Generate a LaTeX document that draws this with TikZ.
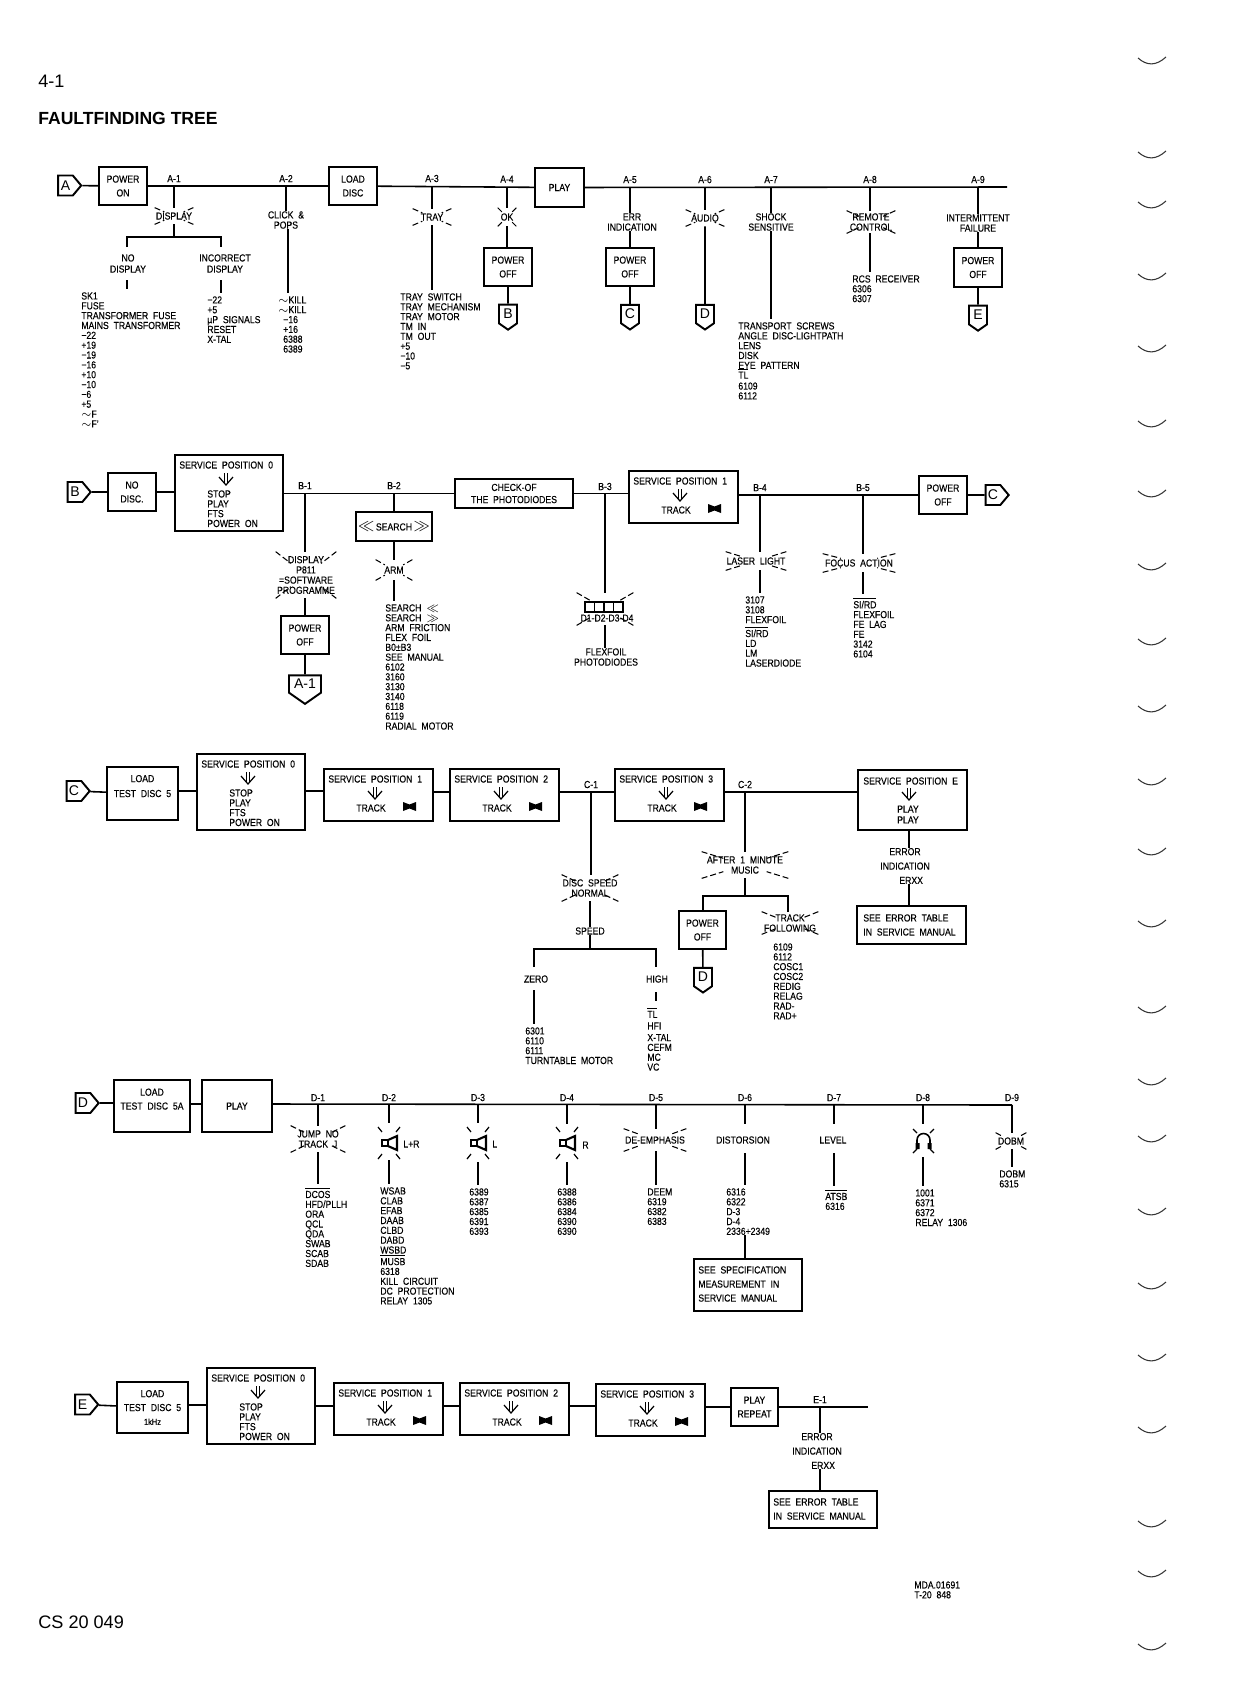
\documentclass[tikz,border=0pt]{standalone}
\usepackage{fontspec}
\setmainfont[WordSpace=2,FakeStretch=0.85,FakeBold=0.25]{Liberation Sans}
\newfontfamily\headfont{Liberation Sans}
\usepackage{tikz}
\usetikzlibrary{shapes, calc, positioning}
\def\px{0.02cm}
\tikzset{
  wire/.style={line width=0.9pt},
  lead/.style={wire, shorten >=1.7pt},
  ray/.style={line width=0.6pt, dash pattern=on 3.4pt off 1.7pt},
  txt/.style={inner sep=0pt, align=center, font=\fontsize{5.8}{5.8}\selectfont},
  partlist/.style={inner sep=0pt, anchor=north west, align=left, font=\fontsize{5.8}{5.6}\selectfont},
  stepbox/.style 2 args={draw, line width=1.1pt, inner sep=0pt, align=center, minimum width=#1*\px, minimum height=#2*\px, font=\fontsize{5.8}{7.9}\selectfont},
  tagright/.style={draw, line width=1.1pt, signal, signal to=east, signal pointer angle=100, inner sep=0pt, minimum width=23*\px, minimum height=20*\px, font=\headfont\fontsize{8}{9}\selectfont},
  tagdown/.style={draw, line width=1.1pt, signal, signal to=south, signal pointer angle=110, inner sep=0pt, minimum width=18*\px, minimum height=22*\px, font=\headfont\fontsize{8}{9}\selectfont},
  note/.style={txt, anchor=west},
}
\newcommand{\flash}[6]{% name, x, y, half width, half height, text
  \node[txt, minimum width=2*#4*\px, minimum height=2*#5*\px] (#1) at (#2,#3) {#6};
  \foreach \c in {north west, north east, south west, south east}
    \draw[ray] (#1.\c) -- ($(#1.\c)!0.5!(#1.center)$);
}
\newcommand{\downshafts}[2]{%
  \draw[line width=0.5pt] (#1-1.2,#2) -- ++(0,11) (#1+1.2,#2) -- ++(0,11);
  \draw[line width=0.7pt] (#1-7,#2+4) -- (#1,#2+12) -- (#1+7,#2+4);
}
\newcommand{\diode}[2]{%
  \fill (#1,#2) -- (#1+6.5,#2+2.5) -- (#1+13,#2) -- (#1+13,#2+9) -- (#1+6.5,#2+6.5) -- (#1,#2+9) -- cycle;
}
\newcommand{\trackbox}[4]{% name, left, top, position
  \node[stepbox={109}{52}, anchor=north west] (#1) at (#2,#3) {};
  \node[note] (#1title) at (#2+5,#3+11) {SERVICE POSITION #4};
  \downshafts{#2+52}{#3+19}
  \node[txt] (#1track) at (#2+48,#3+40) {TRACK};
  \diode{#2+80}{#3+34}
}
\newcommand{\stopbox}[3]{% name, left, top
  \node[stepbox={108}{76}, anchor=north west] (#1) at (#2,#3) {};
  \node[note] (#1title) at (#2+5,#3+11) {SERVICE POSITION 0};
  \downshafts{#2+52}{#3+19}
  \node[partlist] (#1list) at (#2+33,#3+36) {STOP\\PLAY\\FTS\\POWER ON};
}
\newcommand{\speaker}[3]{% name, x, y
  \coordinate (#1) at (#2,#3);
  \draw[line width=1.2pt] (#2-7,#3-3) rectangle (#2-1,#3+3);
  \draw[line width=1.2pt] (#2-1,#3-3) -- (#2+8,#3-7) -- (#2+8,#3+7) -- (#2-1,#3+3);
  \foreach \s/\t in {-1/-1, 1/-1, -1/1, 1/1}
    \draw[line width=0.7pt] (#2+\s*7,#3+\t*11) -- (#2+\s*11,#3+\t*16);
}
\begin{document}
\begin{tikzpicture}[x=0.02cm, y=-0.02cm]
  \lineskiplimit=-5pt
  \useasboundingbox (0,0) rectangle (1244,1688);

  \node[anchor=west, inner sep=0pt, font=\headfont\fontsize{10.3}{12}\selectfont] (pageNo) at (38,81) {4-1};
  \node[anchor=west, inner sep=0pt, font=\headfont\bfseries\fontsize{10}{12}\selectfont] (pageTitle) at (38,118) {FAULTFINDING TREE};
  \node[anchor=west, inner sep=0pt, font=\headfont\fontsize{10.3}{12}\selectfont] (docNo) at (38,1622) {CS 20 049};
  \node[partlist] (drawingNo) at (914,1581) {MDA.01691\\T-20 848};

  % row A
  \node[tagright] (tagA) at (65.5,185.5) {A};
  \node[stepbox={48}{38}] (powerOnA) at (123,186) {POWER\\ON};
  \node[stepbox={48}{38}] (loadDiscA) at (353,186) {LOAD\\DISC};
  \node[stepbox={49}{39}] (playA) at (559.5,187.5) {PLAY};
  \coordinate (a9end) at (1007,187);
  \draw[wire] (tagA) -- (powerOnA);
  \draw[wire] (powerOnA) -- (loadDiscA);
  \draw[wire] (loadDiscA) -- (playA);
  \draw[wire] (playA) -- (a9end);

  \foreach \nm/\lab/\xx/\yy in {a1/A-1/174/186, a2/A-2/286/186, a3/A-3/432/186, a4/A-4/507/186.5, a5/A-5/630/187, a6/A-6/705/187, a7/A-7/771/187, a8/A-8/870/187, a9/A-9/978/187}{
    \coordinate (\nm) at (\xx,\yy);
    \node[txt, above=2pt of \nm] (\nm label) {\lab};
  }

  \flash{flashDisplay}{174}{216}{19}{8}{DISPLAY}
  \draw[wire] (a1) -- (flashDisplay.north);
  \coordinate (a1fork) at (174,237);
  \draw[wire] (flashDisplay.south) -- (a1fork);
  \node[txt] (noDisplay) at (128,263.5) {NO\\[0.5pt]DISPLAY};
  \node[txt] (badDisplay) at (225,263.5) {INCORRECT\\[0.5pt]DISPLAY};
  \coordinate (noDisplayEnd) at (127,247);
  \coordinate (badDisplayEnd) at (221,247);
  \draw[wire] (noDisplayEnd) |- (a1fork) -| (badDisplayEnd);
  \node[partlist] (listNoDisplay) at (81,292) {SK1\\FUSE\\TRANSFORMER FUSE\\MAINS TRANSFORMER\\−22\\+19\\−19\\−16\\+10\\−10\\−6\\+5\\$\sim$F\\$\sim$F'};
  \node[partlist] (listBadDisplay) at (207,296) {−22\\+5\\µP SIGNALS\\RESET\\X-TAL};
  \coordinate (noDisplayStub) at (127,280);
  \coordinate (badDisplayStub) at (221,280);
  \draw[lead] (noDisplayStub) -- (noDisplayStub |- listNoDisplay.north);
  \draw[lead] (badDisplayStub) -- (badDisplayStub |- listBadDisplay.north);

  \node[txt] (clickPops) at (286,220) {CLICK \&\\POPS};
  \draw[wire] (a2) -- (clickPops.north);
  \node[partlist] (listClick) at (278,296) {$\sim$KILL\\$\sim$KILL\\\hspace*{2.8pt}−16\\\hspace*{2.8pt}+16\\\hspace*{2.8pt}6388\\\hspace*{2.8pt}6389};
  \draw[lead] (clickPops.south -| 288,0) -- (listClick.north -| 288,0);

  \flash{flashTray}{432}{217}{19}{8}{TRAY}
  \draw[wire] (a3) -- (flashTray.north);
  \node[partlist] (listTray) at (400,293) {TRAY SWITCH\\TRAY MECHANISM\\TRAY MOTOR\\TM IN\\TM OUT\\+5\\−10\\−5};
  \draw[lead] (flashTray.south) -- (flashTray.south |- listTray.north);

  \flash{flashOk}{507}{217}{9}{9}{OK}
  \node[stepbox={48}{38}] (powerOffB) at (508,267) {POWER\\OFF};
  \node[tagdown] (tagDownB) at (508,314) {B};
  \draw[wire] (a4) -- (flashOk.north);
  \draw[wire] (flashOk.south) -- (flashOk.south |- powerOffB.north);
  \draw[wire] (powerOffB) -- (tagDownB);

  \node[txt] (errIndication) at (632,222) {ERR\\INDICATION};
  \node[stepbox={48}{38}] (powerOffC) at (630,267) {POWER\\OFF};
  \node[tagdown] (tagDownC) at (630,314) {C};
  \draw[wire] (a5) -- (a5 |- errIndication.north);
  \draw[wire] (a5 |- errIndication.south) -- (powerOffC);
  \draw[wire] (powerOffC) -- (tagDownC);

  \flash{flashAudio}{705}{218}{19}{8}{AUDIO}
  \node[tagdown] (tagDownD) at (705,314) {D};
  \draw[wire] (a6) -- (flashAudio.north);
  \draw[wire] (flashAudio) -- (tagDownD);

  \node[txt] (shock) at (771,222) {SHOCK\\SENSITIVE};
  \node[partlist] (listShock) at (738,322) {TRANSPORT SCREWS\\ANGLE DISC-LIGHTPATH\\LENS\\DISK\\EYE PATTERN\\$\overline{\mbox{TL}}$\\[0.6pt]6109\\6112};
  \draw[wire] (a7) -- (shock.north);
  \draw[lead] (shock.south) -- (shock.south |- listShock.north);

  \flash{flashRemote}{871}{222}{24}{11}{REMOTE\\CONTROL}
  \node[partlist] (listRemote) at (852,275) {RCS RECEIVER\\6306\\6307};
  \draw[wire] (a8) -- (a8 |- flashRemote.north);
  \draw[lead] (a8 |- flashRemote.south) -- (a8 |- listRemote.north);

  \node[txt] (intermittent) at (978,223) {INTERMITTENT\\FAILURE};
  \node[stepbox={48}{39}] (powerOffE) at (978,267.5) {POWER\\OFF};
  \node[tagdown] (tagDownE) at (978,315) {E};
  \draw[wire] (a9) -- (intermittent.north);
  \draw[wire] (intermittent) -- (powerOffE);
  \draw[wire] (powerOffE) -- (tagDownE);

  % row B
  \node[tagright] (tagB) at (75,492) {B};
  \node[stepbox={48}{38}] (noDisc) at (132,492) {NO\\DISC.};
  \stopbox{stopB}{174}{454}
  \node[stepbox={118}{29}] (checkDiodes) at (514,493.5) {CHECK-OF\\[-1pt]THE PHOTODIODES};
  \trackbox{trackB}{628}{470}{1}
  \node[stepbox={48}{38}] (powerOffBC) at (943,495) {POWER\\OFF};
  \node[tagright] (tagOutC) at (993,495) {C};
  \draw[wire] (tagB) -- (noDisc);
  \draw[wire] (noDisc) -- (noDisc -| stopB.west);
  \draw[wire] (stopB.east |- checkDiodes) -- (checkDiodes);
  \draw[wire] (checkDiodes) -- (checkDiodes -| trackB.west);
  \draw[wire] (trackB.east |- powerOffBC) -- (powerOffBC);
  \draw[wire] (powerOffBC) -- (tagOutC);

  \foreach \nm/\lab/\xx/\yy in {b1/B-1/305/493, b2/B-2/394/493, b3/B-3/605/494, b4/B-4/760/495, b5/B-5/863/495}{
    \coordinate (\nm) at (\xx,\yy);
    \node[txt, above=2pt of \nm] (\nm label) {\lab};
  }

  \flash{flashP}{306}{575}{30}{23}{DISPLAY\\P811\\=SOFTWARE\\PROGRAMME}
  \node[stepbox={48}{38}] (powerOffA) at (305,635) {POWER\\OFF};
  \node[tagdown, minimum width=32*\px, minimum height=25*\px] (tagDownA) at (305,684) {A-1};
  \draw[wire] (b1) -- (b1 |- flashP.north);
  \draw[wire] (b1 |- flashP.south) -- (powerOffA);
  \draw[wire] (powerOffA) -- (tagDownA);

  \node[stepbox={76}{29}] (search) at (394,526.5) {{\fontsize{9}{9}\selectfont$\ll$}\,SEARCH\,{\fontsize{9}{9}\selectfont$\gg$}};
  \flash{flashArm}{394}{570}{18}{10}{ARM}
  \node[partlist] (listArm) at (385,604) {SEARCH $\ll$\\SEARCH $\gg$\\ARM FRICTION\\FLEX FOIL\\B0±B3\\SEE MANUAL\\6102\\3160\\3130\\3140\\6118\\6119\\RADIAL MOTOR};
  \draw[wire] (b2) -- (search);
  \draw[wire] (search) -- (flashArm);
  \draw[lead] (flashArm.south) -- (flashArm.south |- listArm.north);

  \flash{flashDiodes}{605}{609}{28}{16}{}
  \node[txt] (diodeLabel) at (607,618) {D1-D2-D3-D4};
  \foreach \xx in {585,594.5,604,613.5}
    \draw[line width=0.8pt] (\xx,602) rectangle ++(9.5,10);
  \node[txt] (flexDiodes) at (606,657) {FLEXFOIL\\PHOTODIODES};
  \draw[wire] (b3) -- (flashDiodes.north);
  \draw[wire] (flashDiodes.south) -- (flashDiodes.south |- flexDiodes.north);

  \flash{flashLaser}{756}{561}{30}{9}{LASER LIGHT}
  \node[partlist] (listLaser) at (745,596) {3107\\3108\\FLEXFOIL\\[2.3pt]$\overline{\mbox{SI/RD}}$\\LD\\LM\\LASERDIODE};
  \draw[wire] (b4) -- (b4 |- flashLaser.north);
  \draw[lead] (b4 |- flashLaser.south) -- (b4 |- listLaser.north);

  \flash{flashFocus}{859}{563}{36}{9}{FOCUS ACTION}
  \node[partlist] (listFocus) at (853,597) {$\overline{\mbox{SI/RD}}$\\FLEXFOIL\\FE LAG\\FE\\3142\\6104};
  \draw[wire] (b5) -- (b5 |- flashFocus.north);
  \draw[lead] (b5 |- flashFocus.south) -- (b5 |- listFocus.north);

  % row C
  \node[tagright] (tagC) at (74,791) {C};
  \node[stepbox={71}{53}] (loadC) at (142.5,793.5) {LOAD\\[0.6pt]TEST DISC 5\\[0.6pt]~};
  \stopbox{stopC}{196}{753}
  \trackbox{trackC1}{323}{768}{1}
  \trackbox{trackC2}{449}{768}{2}
  \trackbox{trackC3}{614}{768}{3}
  \node[stepbox={109}{60}, anchor=north west] (servE) at (857,769) {};
  \node[note] (servEtitle) at (863,781) {SERVICE POSITION E};
  \downshafts{909}{788}
  \node[txt] (servEplay) at (908,814.5) {PLAY\\[0.4pt]PLAY};
  \coordinate (c1) at (591,792);
  \coordinate (c2) at (745,792);
  \node[txt, above=2pt of c1] (c1label) {C-1};
  \node[txt, above=2pt of c2] (c2label) {C-2};
  \draw[wire] (tagC) -- (loadC);
  \draw[wire] (loadC.east |- 0,791) -- (stopC.west |- 0,791);
  \draw[wire] (stopC.east |- 0,791) -- (trackC1.west |- 0,791);
  \draw[wire] (trackC1.east |- 0,792) -- (trackC2.west |- 0,792);
  \draw[wire] (trackC2.east |- 0,792) -- (trackC3.west |- 0,792);
  \draw[wire] (trackC3.east |- 0,792) -- (servE.west |- 0,792);

  \flash{flashSpeed}{590}{888}{28}{13}{DISC SPEED\\NORMAL}
  \node[txt] (speed) at (590,931) {SPEED};
  \coordinate (speedFork) at (590,949);
  \coordinate (zeroEnd) at (534,967);
  \coordinate (highEnd) at (656,967);
  \node[txt] (zero) at (536,979) {ZERO};
  \node[txt] (high) at (657,979) {HIGH};
  \coordinate (zeroStub) at (534,990);
  \coordinate (highStub) at (656,992);
  \node[partlist] (listZero) at (525,1027) {6301\\6110\\6111\\TURNTABLE MOTOR};
  \node[partlist] (listHigh) at (647,1007) {$\overline{\mbox{TL}}$\\[1pt]HFI\\[1pt]X-TAL\\CEFM\\MC\\VC};
  \draw[wire] (c1) -- (c1 |- flashSpeed.north);
  \draw[wire] (flashSpeed) -- (speed);
  \draw[wire] (speed) -- (speedFork);
  \draw[wire] (zeroEnd) |- (speedFork) -| (highEnd);
  \draw[lead] (zeroStub) -- (zeroStub |- listZero.north);
  \draw[wire] (highStub) -- (656,1001);

  \flash{flashMusic}{745}{865}{43}{13}{AFTER 1 MINUTE\\MUSIC}
  \coordinate (musicFork) at (745,896);
  \node[stepbox={47}{38}] (powerOffCD) at (702.5,930) {POWER\\OFF};
  \node[tagdown] (tagDownCD) at (703,977) {D};
  \flash{flashTrackF}{790}{923}{28}{11}{TRACK\\FOLLOWING}
  \node[partlist] (listTrackF) at (773,943) {6109\\6112\\COSC1\\COSC2\\REDIG\\RELAG\\RAD-\\RAD+};
  \draw[wire] (c2) -- (flashMusic.north);
  \draw[wire] (flashMusic) -- (musicFork);
  \draw[wire] (powerOffCD.north -| 703,0) |- (musicFork) -| (flashTrackF.north -| 788,0);
  \draw[wire] (powerOffCD) -- (tagDownCD);

  \node[txt] (errorC) at (905,866) {ERROR\\[2.4pt]INDICATION\\[2.4pt]\hspace*{7pt}ERXX};
  \node[stepbox={109}{38}] (tableC) at (911.5,925) {};
  \node[partlist] (tableCtext) at (863,914) {SEE ERROR TABLE\\[2.4pt]IN SERVICE MANUAL};
  \draw[wire] (servE.south -| 909,0) -- (errorC.north -| 909,0);
  \draw[wire] (errorC.south -| 909,0) -- (tableC.north -| 909,0);

  % row D
  \node[tagright] (tagD) at (83,1103) {D};
  \node[stepbox={76}{52}] (loadD) at (152,1106) {LOAD\\TEST DISC 5A\\~};
  \node[stepbox={70}{52}] (playD) at (237,1106) {PLAY};
  \coordinate (d9end) at (1012,1105);
  \draw[wire] (tagD) -- (loadD.west |- tagD);
  \draw[wire] (loadD.east |- 0,1104) -- (playD.west |- 0,1104);
  \draw[wire] (playD.east |- 0,1104) -- (d9end);

  \foreach \nm/\lab/\xx in {d1/D-1/318, d2/D-2/389, d3/D-3/478, d4/D-4/567, d5/D-5/656, d6/D-6/745, d7/D-7/834, d8/D-8/923, d9/D-9/1012}{
    \coordinate (\nm) at (\xx,1105);
    \node[txt, above=2pt of \nm] (\nm label) {\lab};
  }

  \flash{flashJump}{318}{1139}{27}{13}{JUMP NO\\TRACK J}
  \node[partlist] (listJump) at (305,1187) {$\overline{\mbox{DCOS}}$\\HFD/PLLH\\ORA\\QCL\\QDA\\SWAB\\SCAB\\SDAB};
  \draw[wire] (d1) -- (flashJump.north);
  \draw[lead] (flashJump.south) -- (flashJump.south |- listJump.north);

  \speaker{speakerLR}{389}{1143}
  \node[note] (speakerLRlabel) at (403,1144) {L+R};
  \node[partlist] (listLR) at (380,1187) {WSAB\\CLAB\\EFAB\\DAAB\\CLBD\\DABD\\WSBD\\[1pt]$\overline{\mbox{MUSB}}$\\6318\\KILL CIRCUIT\\DC PROTECTION\\RELAY 1305};
  \draw[wire] (d2) -- ++(0,18);
  \draw[lead] (speakerLR |- 0,1160) -- (speakerLR |- listLR.north);

  \speaker{speakerL}{478}{1143}
  \node[note] (speakerLlabel) at (492,1144) {L};
  \node[partlist] (listL) at (469,1188) {6389\\6387\\6385\\6391\\6393};
  \draw[wire] (d3) -- ++(0,18);
  \draw[lead] (speakerL |- 0,1162) -- (speakerL |- listL.north);

  \speaker{speakerR}{567}{1143}
  \node[note] (speakerRlabel) at (582,1145) {R};
  \node[partlist] (listR) at (557,1188) {6388\\6386\\6384\\6390\\6390};
  \draw[wire] (d4) -- ++(0,19);
  \draw[lead] (speakerR |- 0,1162) -- (speakerR |- listR.north);

  \flash{flashDeemph}{655}{1140}{31}{11}{DE-EMPHASIS}
  \node[partlist] (listDeemph) at (647,1188) {DEEM\\6319\\6382\\6383};
  \draw[wire] (d5) -- (d5 |- flashDeemph.north);
  \draw[lead] (d5 |- flashDeemph.south) -- (d5 |- listDeemph.north);

  \node[txt] (distorsion) at (743,1140) {DISTORSION};
  \node[partlist] (listDist) at (726,1188) {6316\\6322\\D-3\\D-4\\2336+2349};
  \node[stepbox={108}{52}] (specBox) at (748,1285) {};
  \node[partlist] (specText) at (698,1266) {SEE SPECIFICATION\\[2.4pt]MEASUREMENT IN\\[2.4pt]SERVICE MANUAL};
  \draw[wire] (d6) -- (d6 |- 0,1124);
  \draw[lead] (d6 |- 0,1153) -- (d6 |- listDist.north);
  \draw[wire] (d6 |- listDist.south) -- (d6 |- specBox.north);

  \node[txt] (level) at (833,1140) {LEVEL};
  \node[partlist] (listLevel) at (825,1189) {$\overline{\mbox{ATSB}}$\\6316};
  \draw[wire] (d7) -- (d7 |- 0,1124);
  \draw[lead] (d7 |- 0,1153) -- (d7 |- listLevel.north);

  \coordinate (phones) at (923,1141);
  \draw[line width=0.9pt] (917,1145) -- (917,1140) arc[start angle=180, end angle=360, radius=6.5] -- (930,1145);
  \fill (915.5,1143) rectangle ++(4,6) (927.5,1143) rectangle ++(4,6);
  \foreach \s/\t in {-1/-1, 1/-1, -1/1, 1/1}
    \draw[line width=0.7pt] (923.5+\s*6.5,1141+\t*8) -- (923.5+\s*10.5,1141+\t*12);
  \node[partlist] (listPhones) at (915,1189) {1001\\6371\\6372\\RELAY 1306};
  \draw[wire] (d8) -- (d8 |- 0,1124);
  \draw[lead] (d8 |- 0,1157) -- (d8 |- listPhones.north);

  \flash{flashDobm}{1011}{1141}{15}{8}{DOBM}
  \node[partlist] (listDobm) at (999,1170) {DOBM\\6315};
  \draw[wire] (d9) -- (d9 |- flashDobm.north);
  \draw[lead] (d9 |- flashDobm.south) -- (d9 |- listDobm.north);

  % row E
  \node[tagright] (tagE) at (82.5,1404.5) {E};
  \node[stepbox={71}{51}] (loadE) at (152.5,1407.5) {LOAD\\TEST DISC 5\\{\fontsize{5}{7}\selectfont 1kHz}};
  \stopbox{stopE}{206}{1367}
  \trackbox{trackE1}{333}{1382}{1}
  \trackbox{trackE2}{459}{1382}{2}
  \trackbox{trackE3}{595}{1383}{3}
  \node[stepbox={47}{38}] (playRepeat) at (754.5,1407) {PLAY\\REPEAT};
  \coordinate (e1) at (820,1407);
  \coordinate (e1end) at (868,1407);
  \node[txt, above=2pt of e1] (e1label) {E-1};
  \draw[wire] (tagE) -- (loadE);
  \draw[wire] (loadE.east |- 0,1405) -- (stopE.west |- 0,1405);
  \draw[wire] (stopE.east |- 0,1406) -- (trackE1.west |- 0,1406);
  \draw[wire] (trackE1.east |- 0,1406) -- (trackE2.west |- 0,1406);
  \draw[wire] (trackE2.east |- 0,1406) -- (trackE3.west |- 0,1406);
  \draw[wire] (trackE3.east |- 0,1407) -- (playRepeat);
  \draw[wire] (playRepeat) -- (e1end);

  \node[txt] (errorE) at (817,1451) {ERROR\\[2.4pt]INDICATION\\[2.4pt]\hspace*{7pt}ERXX};
  \node[stepbox={108}{37}] (tableE) at (823,1509.5) {};
  \node[partlist] (tableEtext) at (773,1498) {SEE ERROR TABLE\\[2.4pt]IN SERVICE MANUAL};
  \draw[wire] (e1) -- (e1 |- errorE.north);
  \draw[wire] (e1 |- errorE.south) -- (e1 |- tableE.north);

  % binding marks at the right edge
  \foreach \yy in {64,158,208,280,352,427,497,570,645,712,785,855,927,1013,1085,1142,1215,1289,1361,1433,1527,1577,1650}
    \draw[line width=0.6pt, gray!40!black] (1138,\yy-6) .. controls (1147,\yy+2) and (1156,\yy+2) .. (1166,\yy-7);
\end{tikzpicture}
\end{document}
